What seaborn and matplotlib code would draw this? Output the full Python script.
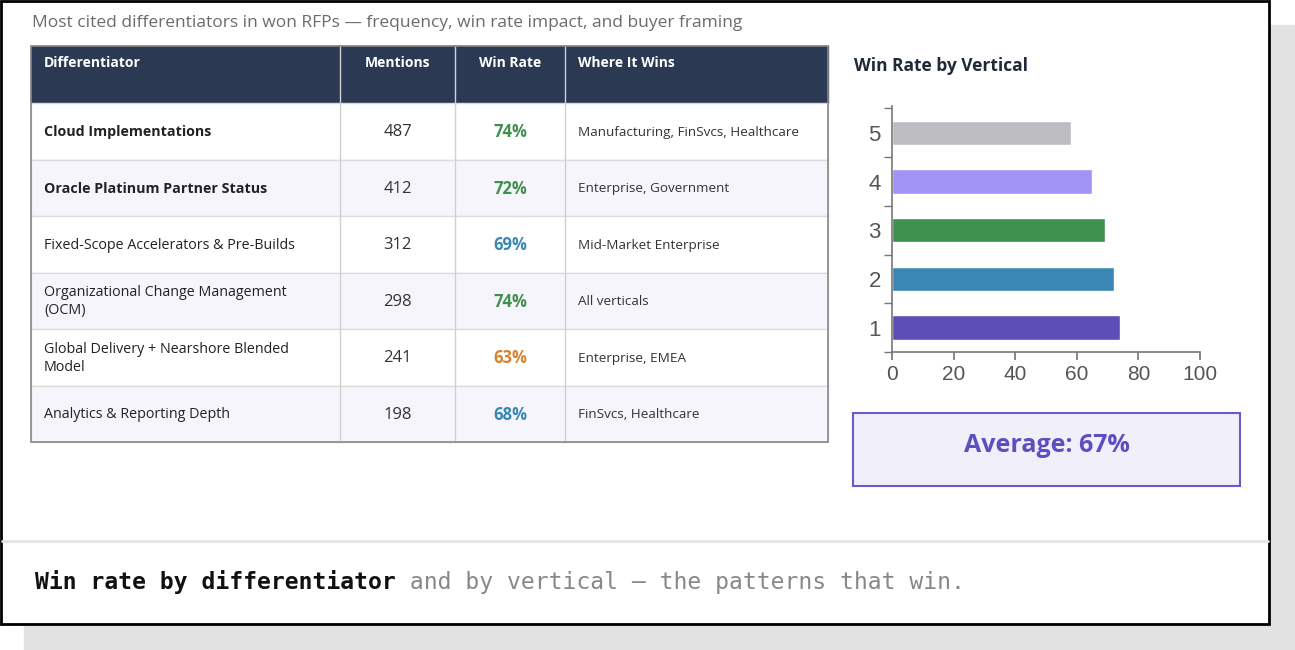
import matplotlib
matplotlib.use("Agg")
import matplotlib.pyplot as plt
import seaborn as sns
import pandas as pd
from matplotlib.patches import Rectangle

# table data
differentiators = ["Cloud Implementations", "Oracle Platinum Partner Status",
                   "Fixed-Scope Accelerators & Pre-Builds",
                   "Organizational Change Management\n(OCM)",
                   "Global Delivery + Nearshore Blended\nModel",
                   "Analytics & Reporting Depth"]
mentions = [487, 412, 312, 298, 241, 198]
win_rates = [74, 72, 69, 74, 63, 68]
where_wins = ["Manufacturing, FinSvcs, Healthcare", "Enterprise, Government",
              "Mid-Market Enterprise", "All verticals", "Enterprise, EMEA",
              "FinSvcs, Healthcare"]
rate_colors = ["#3f8f4f", "#3f8f4f", "#3a87b5", "#3f8f4f", "#d9822b", "#3a87b5"]
bold_rows = [True, True, False, False, False, False]

# bar chart data
verticals = ["5", "4", "3", "2", "1"]
vertical_rates = [58, 65, 69, 72, 74]
vertical_colors = ["#bdbcc1", "#a294f5", "#3f9150", "#3a87b5", "#5b4fb5"]
average = 67

sns.set_theme(style="white")
plt.rcParams['font.family'] = ['Open Sans', 'DejaVu Sans']

W, H = 1295, 650
fig = plt.figure(figsize=(W / 100, H / 100), dpi=100)
bg = fig.add_axes([0, 0, 1, 1])
bg.set_xlim(0, W)
bg.set_ylim(H, 0)
bg.axis("off")

# slide frame and shadow
bg.add_patch(Rectangle((24, 25), W - 24, H - 25, color="#e2e2e2", zorder=0))
bg.add_patch(Rectangle((1, 1), 1268, 623, facecolor="white", edgecolor="black", lw=2, zorder=1))
bg.plot([2, 1268], [541, 541], color="#e4e4e4", lw=2, zorder=2)

bg.text(32, 23, "Most cited differentiators in won RFPs \u2014 frequency, win rate impact, and buyer framing",
        fontsize=12.5, color="#6b6b6b", va="center", zorder=3)

# table
cols = [31, 340, 455, 565, 828]
top, head_h, row_h = 46, 57, 56.5
bg.add_patch(Rectangle((31, top), 797, head_h, color="#2b3a52", zorder=2))
headers = ["Differentiator", "Mentions", "Win Rate", "Where It Wins"]
for i, h in enumerate(headers):
    if i in (1, 2):
        bg.text((cols[i] + cols[i + 1]) / 2, top + 17, h, color="white", fontsize=10,
                fontweight="bold", ha="center", va="center", zorder=3)
    else:
        bg.text(cols[i] + 13, top + 17, h, color="white", fontsize=10,
                fontweight="bold", ha="left", va="center", zorder=3)
for r in range(len(differentiators)):
    y0 = top + head_h + r * row_h
    yc = y0 + row_h / 2 + 1
    fc = "white" if r % 2 == 0 else "#f7f5fc"
    bg.add_patch(Rectangle((31, y0), 797, row_h, facecolor=fc, edgecolor="#dcdcdc", lw=1, zorder=2))
    bg.text(cols[0] + 13, yc, differentiators[r], fontsize=10.3, color="#222222",
            fontweight="bold" if bold_rows[r] else "normal", va="center", linespacing=1.3, zorder=3)
    bg.text((cols[1] + cols[2]) / 2, yc, str(mentions[r]), fontsize=12, color="#333333",
            ha="center", va="center", zorder=3)
    bg.text((cols[2] + cols[3]) / 2, yc, f"{win_rates[r]}%", fontsize=12, color=rate_colors[r],
            fontweight="bold", ha="center", va="center", zorder=3)
    bg.text(cols[3] + 13, yc, where_wins[r], fontsize=9.7, color="#333333", va="center", zorder=3)
for x in cols[1:-1]:
    bg.plot([x, x], [top, 442], color="#d0d0d0", lw=1, zorder=3)
bg.add_patch(Rectangle((31, top), 797, 442 - top, fill=False, edgecolor="#888888", lw=1.2, zorder=4))

# bar chart
bg.text(854, 66, "Win Rate by Vertical", fontsize=12.5, fontweight="bold", color="#1f2937",
        va="center", zorder=3)
ax = fig.add_axes([892 / W, 1 - 352 / H, 308 / W, 246 / H])
df = pd.DataFrame({"vertical": verticals, "rate": vertical_rates})
sns.barplot(data=df, x="rate", y="vertical", hue="vertical", palette=vertical_colors,
            order=verticals, legend=False, width=0.5, saturation=1, ax=ax)
ax.set_xlim(0, 100)
ax.set_xticks([0, 20, 40, 60, 80, 100])
ax.set_xlabel("")
ax.set_ylabel("")
for s in ["top", "right"]:
    ax.spines[s].set_visible(False)
for s in ["left", "bottom"]:
    ax.spines[s].set_color("#777777")
    ax.spines[s].set_linewidth(1.2)
ax.tick_params(axis="both", which="both", direction="out", length=6, color="#777777",
               labelsize=15, labelcolor="#555555", bottom=True, left=True)
ax.tick_params(axis="y", labelsize=16)
ax.set_yticks([-0.5, 0.5, 1.5, 2.5, 3.5, 4.5], minor=True)
ax.tick_params(axis="y", which="major", length=0, pad=8)
ax.tick_params(axis="y", which="minor", length=6, color="#777777")
ax.set_ylim(4.5, -0.55)
for t in ax.get_xticklabels() + ax.get_yticklabels():
    t.set_family("Liberation Sans")

# average box
bg.add_patch(Rectangle((853, 413), 387, 73, facecolor="#f1effa", edgecolor="#6a5acd", lw=1.5, zorder=2))
bg.text(1046.5, 446, f"Average: {average}%", fontsize=18, fontweight="bold", color="#5b4fc2",
        ha="center", va="center", zorder=3)

# caption
t1 = bg.text(35, 582, "Win rate by differentiator", fontsize=16.6, fontweight="bold",
             family="DejaVu Sans Mono", color="#111111", va="center", zorder=3)
fig.canvas.draw()
bb = t1.get_window_extent()
x_end = bg.transData.inverted().transform((bb.x1, 0))[0]
bg.text(x_end, 582, " and by vertical \u2014 the patterns that win.", fontsize=16.6,
        family="DejaVu Sans Mono", color="#888888", va="center", zorder=3)

fig.savefig("out.png", dpi=100)
